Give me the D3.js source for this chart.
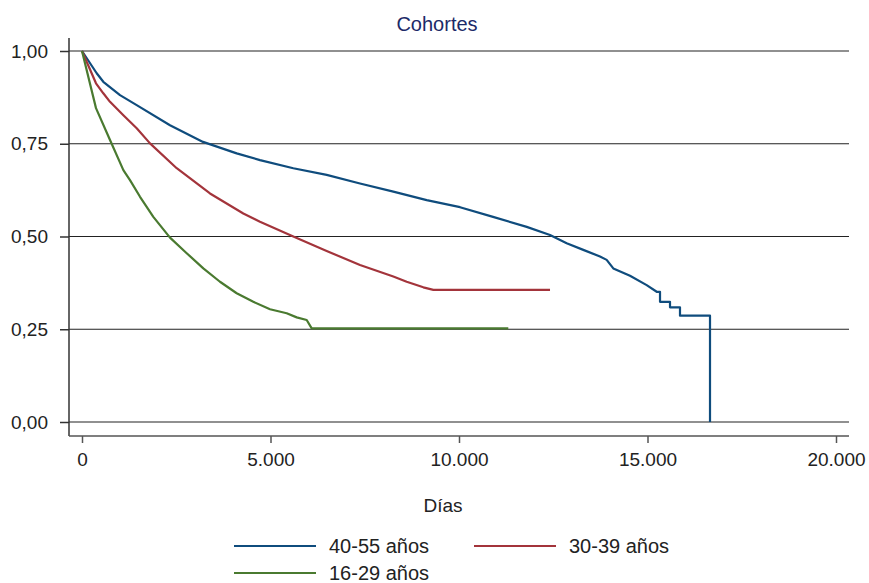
<!DOCTYPE html>
<html>
<head>
<meta charset="utf-8">
<script src="https://cdn.jsdelivr.net/npm/d3@7"></script>
<style>
  body { margin: 0; background: #fff; }
  text { font-family: "Liberation Sans", Arial, sans-serif; }
</style>
</head>
<body>
<svg id="chart" width="869" height="583"></svg>
<script>
// Kaplan-Meier curves: [dias, supervivencia]
var serie4055 = [
  [0, 1], [390, 0.94], [565, 0.917], [1008, 0.881], [1451, 0.854], [2334, 0.80],
  [3210, 0.755], [4103, 0.724], [4721, 0.706], [5605, 0.684], [6490, 0.666],
  [7374, 0.643], [8258, 0.621], [9143, 0.598], [10027, 0.579], [10903, 0.553],
  [11796, 0.526], [12414, 0.504], [12856, 0.482], [13297, 0.464], [13740, 0.446],
  [13917, 0.437], [14093, 0.414], [14536, 0.394], [14978, 0.369], [15244, 0.351],
  [15332, 0.351], [15332, 0.324], [15597, 0.324], [15597, 0.309], [15862, 0.309],
  [15862, 0.2865], [16658, 0.2865], [16658, 0]
];
var serie3039 = [
  [0, 1], [371, 0.913], [565, 0.886], [743, 0.863], [1097, 0.827], [1451, 0.792],
  [1804, 0.751], [2512, 0.684], [3395, 0.616], [4279, 0.562], [4721, 0.540],
  [5605, 0.50], [6490, 0.461], [7374, 0.423], [8258, 0.392], [8612, 0.378],
  [9054, 0.363], [9319, 0.356], [12414, 0.356]
];
var serie1629 = [
  [0, 1], [371, 0.846], [743, 0.76], [1097, 0.679], [1273, 0.652], [1539, 0.607],
  [1892, 0.553], [2334, 0.497], [2777, 0.455], [3218, 0.414], [3660, 0.378],
  [4103, 0.347], [4544, 0.324], [4987, 0.304], [5430, 0.293], [5695, 0.282],
  [5960, 0.275], [6093, 0.2525], [11308, 0.2525]
];
var series = [
  { name: "40-55 años", values: serie4055, color: "#0f4c7d" },
  { name: "30-39 años", values: serie3039, color: "#a3343b" },
  { name: "16-29 años", values: serie1629, color: "#4a7a30" }
];
var xTicks = [0, 5000, 10000, 15000, 20000];
var yTicks = [0, 0.25, 0.5, 0.75, 1];

var svg = d3.select("#chart");
var fmtX = function(d) { return d3.format(",")(d).replace(/,/g, "."); };
var fmtY = function(d) { return d3.format(".2f")(d).replace(".", ","); };

var x = d3.scaleLinear().domain([0, 20000]).range([82, 836]);
var y = d3.scaleLinear().domain([0, 1]).range([422, 51]);

// title
svg.append("text")
    .attr("x", 437).attr("y", 31)
    .attr("text-anchor", "middle")
    .attr("fill", "#1c2a68")
    .style("font-size", "20px")
    .text("Cohortes");

// gridlines
svg.append("g").selectAll("line")
    .data(yTicks)
  .enter().append("line")
    .attr("x1", 69).attr("x2", 849)
    .attr("y1", function(d) { return y(d); })
    .attr("y2", function(d) { return y(d); })
    .attr("stroke", "#222")
    .attr("stroke-width", 1.2);

// y axis
var yAxis = svg.append("g")
    .attr("transform", "translate(69,0)")
    .call(d3.axisLeft(y).tickValues(yTicks).tickFormat(fmtY).tickSize(9).tickPadding(12));
yAxis.select(".domain").remove();
yAxis.append("line").attr("x1", 0).attr("x2", 0).attr("y1", 38).attr("y2", 436)
    .attr("stroke", "#333").attr("stroke-width", 1.5);
yAxis.selectAll(".tick line").attr("stroke", "#333").attr("stroke-width", 1.5);
yAxis.selectAll(".tick text").attr("fill", "#222").style("font-size", "19px")
    .attr("font-family", "Liberation Sans, Arial, sans-serif");

// x axis
var xAxis = svg.append("g")
    .attr("transform", "translate(0,436)")
    .call(d3.axisBottom(x).tickValues(xTicks).tickFormat(fmtX).tickSize(7).tickPadding(10));
xAxis.select(".domain").remove();
xAxis.append("line").attr("x1", 69).attr("x2", 849).attr("y1", 0).attr("y2", 0)
    .attr("stroke", "#555").attr("stroke-width", 1.5);
xAxis.selectAll(".tick line").attr("stroke", "#555").attr("stroke-width", 1.5);
xAxis.selectAll(".tick text").attr("fill", "#222").style("font-size", "19px")
    .attr("font-family", "Liberation Sans, Arial, sans-serif");

svg.append("text")
    .attr("x", 443).attr("y", 512)
    .attr("text-anchor", "middle")
    .attr("fill", "#222")
    .style("font-size", "19px")
    .text("Días");

// curves
var line = d3.line()
    .x(function(d) { return x(d[0]); })
    .y(function(d) { return y(d[1]); });

svg.append("g").selectAll("path")
    .data(series)
  .enter().append("path")
    .attr("d", function(d) { return line(d.values); })
    .attr("fill", "none")
    .attr("stroke", function(d) { return d.color; })
    .attr("stroke-width", 2.2)
    .attr("stroke-linejoin", "round");

// legend
var legendPos = [[234, 546], [474, 546], [234, 573]];
var leg = svg.append("g").selectAll("g")
    .data(series)
  .enter().append("g")
    .attr("transform", function(d, i) { return "translate(" + legendPos[i][0] + "," + legendPos[i][1] + ")"; });
leg.append("line")
    .attr("x1", 0).attr("x2", 82)
    .attr("stroke", function(d) { return d.color; })
    .attr("stroke-width", 2.2);
leg.append("text")
    .attr("x", 95).attr("dy", "0.35em")
    .attr("fill", "#222")
    .style("font-size", "20px")
    .text(function(d) { return d.name; });
</script>
</body>
</html>
